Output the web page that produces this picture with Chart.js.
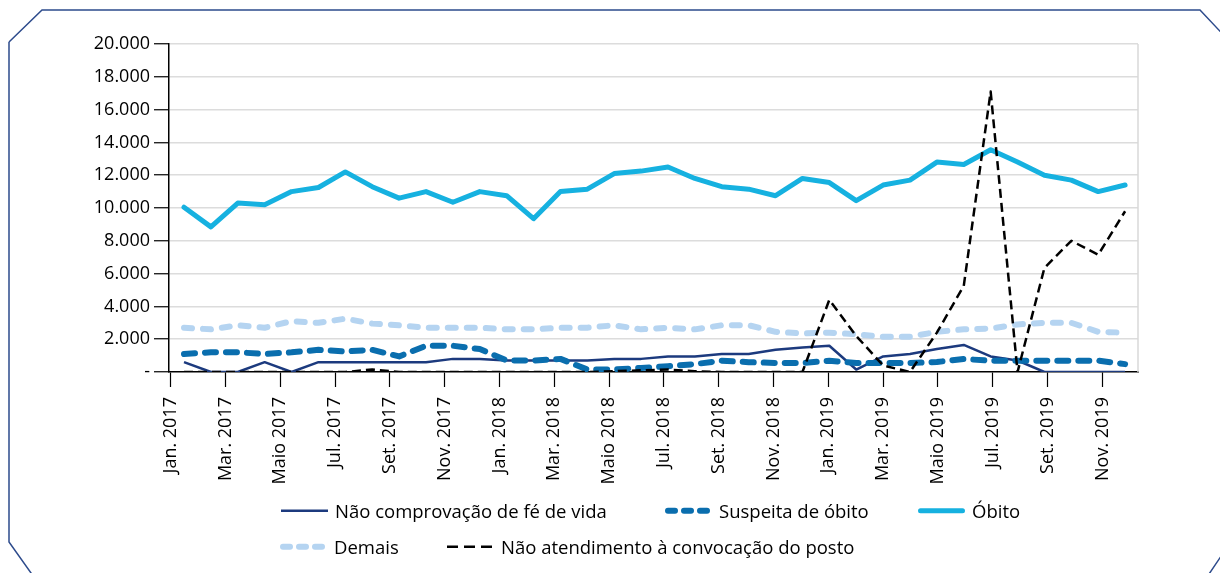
<!DOCTYPE html>
<html><head><meta charset="utf-8">
<script src="https://cdn.jsdelivr.net/npm/chart.js@4.4.1/dist/chart.umd.min.js"></script>
<style>
html,body{margin:0;padding:0;background:#fff;}
#wrap{position:relative;width:1220px;height:573px;overflow:hidden;font-family:"Open Sans",sans-serif;}
#frame,#c{position:absolute;left:0;top:0;}
.lg{position:absolute;display:flex;align-items:center;font-size:18.5px;color:#000;white-space:nowrap;line-height:1;transform:translateY(-50%);}
.lg svg{margin-right:7px;flex:none;}
</style></head>
<body><div id="wrap">
<svg id="frame" width="1220" height="573"><polyline points="9,42 42,10 1200,10 1232,44 1232,540 1205,580" fill="none" stroke="#2d4b8c" stroke-width="1.5"/><polyline points="9,42 9,542 36,580" fill="none" stroke="#2d4b8c" stroke-width="1.5"/></svg>
<canvas id="c" width="1220" height="573"></canvas>
<div id="legend"></div>
</div>
<script>
const categories = ['Jan. 2017','Fev. 2017','Mar. 2017','Abr. 2017','Maio 2017','Jun. 2017','Jul. 2017','Ago. 2017','Set. 2017','Out. 2017','Nov. 2017','Dez. 2017',
'Jan. 2018','Fev. 2018','Mar. 2018','Abr. 2018','Maio 2018','Jun. 2018','Jul. 2018','Ago. 2018','Set. 2018','Out. 2018','Nov. 2018','Dez. 2018',
'Jan. 2019','Fev. 2019','Mar. 2019','Abr. 2019','Maio 2019','Jun. 2019','Jul. 2019','Ago. 2019','Set. 2019','Out. 2019','Nov. 2019','Dez. 2019'];
const labeledTicks = [0,2,4,6,8,10,12,14,16,18,20,22,24,26,28,30,32,34];

const naoComprovacao = [600,0,0,600,0,600,600,600,600,600,800,800, 700,700,700,700,800,800,950,950,1100,1100,1350,1500, 1600,150,950,1100,1400,1650,950,700,0,0,0,0];
const suspeitaObito  = [1100,1200,1200,1100,1200,1350,1250,1350,950,1600,1600,1400, 700,700,800,150,150,250,350,480,690,600,550,550, 690,550,550,550,610,790,690,690,690,690,690,480];
const obito          = [10050,8850,10300,10200,11000,11250,12200,11300,10600,11000,10350,11000, 10750,9350,11000,11150,12100,12250,12500,11800,11300,11150,10750,11800, 11550,10450,11400,11700,12800,12650,13550,12800,12000,11700,11000,11400];
const demais         = [2700,2600,2850,2700,3100,3000,3250,2950,2850,2700,2700,2700, 2600,2600,2700,2700,2850,2600,2700,2600,2850,2850,2450,2350, 2400,2300,2150,2150,2450,2600,2650,2900,3000,3000,2450,2400];
const naoAtendimento = [0,0,0,0,0,0,0,150,0,0,0,0, 0,0,0,0,50,100,150,50,0,0,0,0, 4400,2200,400,0,2400,5250,17100,0,6350,8000,7150,9800];
const yTicks = [0,2000,4000,6000,8000,10000,12000,14000,16000,18000,20000];

const seriesNames = ['Não comprovação de fé de vida','Suspeita de óbito','Óbito','Demais','Não atendimento à convocação do posto'];
const seriesValues = [naoComprovacao, suspeitaObito, obito, demais, naoAtendimento];
const styles = [
  {color:'#1c3a7e', width:2.5, dash:[], legendDash:[], cap:'butt'},
  {color:'#0a6eae', width:6, dash:[11,10], legendDash:[7,9], cap:'round'},
  {color:'#16b1e0', width:5, dash:[], legendDash:[], cap:'round'},
  {color:'#b5d4f1', width:6, dash:[8,11], legendDash:[7,9], cap:'round'},
  {color:'#000000', width:2.5, dash:[9,5], legendDash:[11,6], cap:'butt'}
];
const legendPos = [{l:281,t:511},{l:665,t:511},{l:918,t:511},{l:280,t:547},{l:447,t:547}];

const fmt = v => v === 0 ? '-' : String(v).replace(/\B(?=(\d{3})+(?!\d))/g, '.');

const datasets = seriesValues.map((arr, i) => ({
  label: seriesNames[i],
  data: arr.map((v, k) => ({x: k, y: v})),
  borderColor: styles[i].color,
  backgroundColor: styles[i].color,
  borderWidth: styles[i].width,
  borderDash: styles[i].dash,
  borderCapStyle: styles[i].cap,
  borderJoinStyle: 'round',
  pointRadius: 0,
  tension: 0,
  fill: false,
  xAxisID: 'x', yAxisID: 'y',
  order: seriesValues.length - 1 - i
}));

const plotBorder = {id:'plotBorder', beforeDatasetsDraw(chart){
  const {ctx, chartArea:a} = chart;
  ctx.save(); ctx.strokeStyle = '#d9d9d9'; ctx.lineWidth = 1.5;
  ctx.beginPath(); ctx.moveTo(a.right, a.top); ctx.lineTo(a.right, a.bottom); ctx.stroke(); ctx.restore();
}};

new Chart(document.getElementById('c'), {
  type: 'line',
  data: {datasets},
  plugins: [plotBorder],
  options: {
    responsive: false, animation: false, devicePixelRatio: 1,
    layout: {padding: {left: 0, top: 44, right: 82, bottom: 0}},
    plugins: {legend: {display: false}, tooltip: {enabled: false}},
    scales: {
      x: {type: 'linear', display: false, min: -0.558, max: 35.48},
      xl: {
        type: 'linear', position: 'bottom', min: -0.062, max: 35.3,
        afterBuildTicks: s => { s.ticks = labeledTicks.map(v => ({value: v})); },
        afterFit: s => { s.height = 201; },
        ticks: {autoSkip: false, minRotation: 90, maxRotation: 90, padding: 10, color: '#000',
                font: {family: '"Open Sans"', size: 18}, callback: v => categories[v]},
        grid: {drawOnChartArea: false, drawTicks: true, tickLength: 15, tickColor: '#000', tickWidth: 1.2},
        border: {color: '#000', width: 1.5}
      },
      y: {
        type: 'linear', min: 0, max: 20000,
        afterBuildTicks: s => { s.ticks = yTicks.map(v => ({value: v})); },
        afterFit: s => { s.width = 169; },
        ticks: {padding: 4, color: '#000', font: {family: '"Open Sans"', size: 18}, callback: v => fmt(v)},
        grid: {color: c => c.tick && c.tick.value === 0 ? 'rgba(0,0,0,0)' : '#dcdcdc', lineWidth: 1.5,
               tickLength: 15, tickColor: '#000', tickWidth: 1.2},
        border: {color: '#000', width: 1.5}
      }
    }
  }
});

// HTML legend built from the series definitions
const lg = document.getElementById('legend');
seriesNames.forEach((name, i) => {
  const s = styles[i];
  const d = document.createElement('div');
  d.className = 'lg';
  d.style.left = legendPos[i].l + 'px';
  d.style.top = legendPos[i].t + 'px';
  const cap = s.cap === 'round' ? s.width / 2 : 0;
  d.innerHTML = `<svg width="47" height="10"><line x1="${cap}" y1="5" x2="${47 - cap}" y2="5" stroke="${s.color}" stroke-width="${s.width}" stroke-linecap="${s.cap}" ${s.legendDash.length ? `stroke-dasharray="${s.legendDash.join(' ')}"` : ''}/></svg><span>${name}</span>`;
  lg.appendChild(d);
});
</script>
</body></html>
